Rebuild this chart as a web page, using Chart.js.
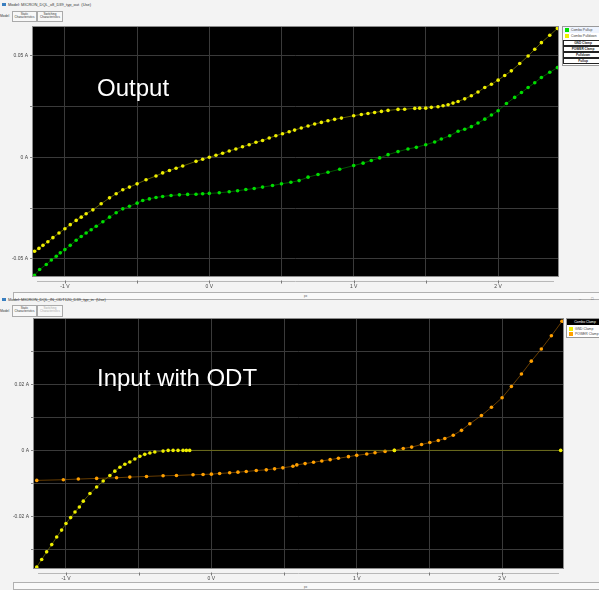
<!DOCTYPE html>
<html><head><meta charset="utf-8">
<script src="https://cdn.jsdelivr.net/npm/chart.js@4.4.1/dist/chart.umd.min.js"></script>
<style>
html,body{margin:0;padding:0;background:#f3f3f3;width:599px;height:590px;overflow:hidden;font-family:"Liberation Sans",Arial,sans-serif;}
.abs{position:absolute;}
.ttl{font-size:4px;color:#333;white-space:nowrap;line-height:5px;}
.tab{border:1px solid #aaa;background:#f8f8f8;font-size:3px;line-height:3.4px;text-align:center;color:#333;box-sizing:border-box;padding-top:1px;}
.tab.dis{color:#aaa;}
.big{color:#fff;font-size:24px;line-height:24px;white-space:nowrap;font-family:"Liberation Sans",Arial,sans-serif;}
.leg{background:#fff;border:1px solid #999;box-sizing:border-box;overflow:hidden;}
.lrow{position:absolute;left:0;width:40px;height:6px;font-size:3.4px;line-height:6px;color:#444;white-space:nowrap;}
.sw{position:absolute;left:2px;top:1px;width:4px;height:4px;}
.lbtn{position:absolute;left:0;width:40px;height:6px;border:1px solid #222;box-sizing:border-box;font-size:3.2px;line-height:4px;text-align:center;color:#222;background:#fff;font-weight:bold;}
.scroll{border:1px solid #b0b0b0;background:#f9f9f9;box-sizing:border-box;}
</style></head><body>

<!-- top window chrome -->
<div class="abs" style="left:2px;top:3px;width:4px;height:3px;background:#3a7fc0;"></div>
<div class="abs ttl" style="left:8px;top:2px;">Model: MICRON_DQL_x8_D39_typ_out &nbsp;(Use)</div>
<div class="abs ttl" style="left:0px;top:14px;font-size:3.4px;">Model</div>
<div class="abs tab" style="left:12px;top:11px;width:25px;height:11px;">Static<br>Characteristics</div>
<div class="abs tab" style="left:37px;top:11px;width:26px;height:11px;">Switching<br>Characteristics</div>

<canvas id="cTop" class="abs" style="left:0px;top:22px;"></canvas>
<div class="abs big" style="left:97px;top:76px;">Output</div>

<div class="abs leg" style="left:562px;top:26px;width:40px;height:40px;">
  <div class="lrow" style="top:0px;background:#eef4ff;"><div class="sw" style="background:#00e000;"></div><span style="margin-left:8px;">Combo Pullup</span></div>
  <div class="lrow" style="top:6px;"><div class="sw" style="background:#f0f000;"></div><span style="margin-left:8px;">Combo Pulldown</span></div>
  <div class="lbtn" style="top:13px;">GND Clamp</div>
  <div class="lbtn" style="top:19px;">POWER Clamp</div>
  <div class="lbtn" style="top:25px;">Pulldown</div>
  <div class="lbtn" style="top:31px;">Pullup</div>
</div>

<div class="abs scroll" style="left:13px;top:292px;width:590px;height:8px;"></div>
<div class="abs ttl" style="left:304px;top:294px;font-size:3px;color:#555;">px</div>

<!-- bottom window chrome -->
<div class="abs" style="left:2px;top:298px;width:4px;height:3px;background:#3a7fc0;"></div>
<div class="abs ttl" style="left:8px;top:297px;">Model: MICRON_DQL_IN_ODT120_D39_typ_in &nbsp;(Use)</div>
<div class="abs ttl" style="left:579px;top:296px;color:#666;">–</div>
<div class="abs ttl" style="left:591px;top:296px;color:#666;">□</div>
<div class="abs ttl" style="left:0px;top:309px;font-size:3.4px;">Model</div>
<div class="abs tab" style="left:12px;top:305px;width:25px;height:12px;">Static<br>Characteristics</div>
<div class="abs tab dis" style="left:37px;top:305px;width:26px;height:12px;">Switching<br>Characteristics</div>

<canvas id="cBot" class="abs" style="left:0px;top:314px;"></canvas>
<div class="abs big" style="left:97px;top:366px;">Input with ODT</div>

<div class="abs leg" style="left:566px;top:318px;width:36px;height:20px;">
  <div class="lrow" style="top:0px;background:#000;color:#fff;text-align:center;width:36px;">Combo Clamp</div>
  <div class="lrow" style="top:7px;"><div class="sw" style="background:#f0f000;"></div><span style="margin-left:8px;">GND Clamp</span></div>
  <div class="lrow" style="top:12px;"><div class="sw" style="background:#ffa000;"></div><span style="margin-left:8px;">POWER Clamp</span></div>
</div>

<div class="abs scroll" style="left:13px;top:582px;width:590px;height:8px;"></div>
<div class="abs ttl" style="left:304px;top:585px;font-size:3px;color:#555;">px</div>

<script>
// ---------- Output (top) data : voltage (V) / current (A) ----------
const outPulldownV = [-1.210,-1.180,-1.152,-1.118,-1.083,-1.041,-1.0,-0.963,-0.922,-0.887,-0.853,-0.806,-0.749,-0.691,-0.645,-0.599,-0.553,-0.5,-0.438,-0.369,-0.323,-0.276,-0.230,-0.184,-0.092,-0.046,0,0.046,0.092,0.138,0.184,0.230,0.276,0.323,0.369,0.415,0.461,0.507,0.553,0.591,0.637,0.684,0.730,0.776,0.822,0.868,0.915,1.0,1.053,1.099,1.145,1.192,1.238,1.307,1.353,1.423,1.457,1.499,1.538,1.584,1.619,1.654,1.688,1.723,1.769,1.815,1.861,1.908,1.954,2.0,2.046,2.092,2.150,2.208,2.254,2.300,2.358,2.411];
const outPulldownI = [-0.0463,-0.0449,-0.0434,-0.0416,-0.0396,-0.0373,-0.0352,-0.0332,-0.0311,-0.0295,-0.0278,-0.0259,-0.0229,-0.0200,-0.0180,-0.0160,-0.0147,-0.0131,-0.0111,-0.0092,-0.0077,-0.0065,-0.0054,-0.0043,-0.0020,-0.0010,0,0.0010,0.0020,0.0031,0.0041,0.0052,0.0062,0.0074,0.0083,0.0095,0.0106,0.0116,0.0126,0.0134,0.0144,0.0154,0.0164,0.0172,0.0180,0.0187,0.0193,0.0205,0.0211,0.0216,0.0221,0.0226,0.0231,0.0236,0.0237,0.0241,0.0242,0.0242,0.0246,0.0249,0.0254,0.0259,0.0267,0.0275,0.0288,0.0303,0.0322,0.0344,0.0360,0.0380,0.0403,0.0426,0.0462,0.0499,0.0532,0.0565,0.0601,0.0635];
const outPullupV = [-1.210,-1.175,-1.129,-1.094,-1.060,-1.032,-1.0,-0.963,-0.922,-0.887,-0.853,-0.818,-0.783,-0.737,-0.691,-0.645,-0.599,-0.553,-0.5,-0.461,-0.415,-0.369,-0.323,-0.265,-0.207,-0.150,-0.092,-0.046,0,0.069,0.138,0.196,0.253,0.311,0.369,0.438,0.5,0.565,0.622,0.684,0.753,0.822,0.903,1.0,1.065,1.122,1.180,1.238,1.307,1.376,1.434,1.499,1.561,1.607,1.665,1.723,1.769,1.815,1.861,1.908,1.954,2.0,2.058,2.115,2.162,2.208,2.254,2.300,2.358,2.411];
const outPullupI = [-0.0581,-0.0553,-0.0528,-0.0506,-0.0488,-0.0471,-0.0455,-0.0434,-0.0409,-0.0390,-0.0373,-0.0357,-0.0340,-0.0318,-0.0295,-0.0273,-0.0254,-0.0241,-0.0226,-0.0213,-0.0205,-0.0198,-0.0193,-0.0188,-0.0185,-0.0183,-0.0182,-0.0180,-0.0178,-0.0175,-0.0170,-0.0165,-0.0159,-0.0154,-0.0147,-0.0139,-0.0131,-0.0123,-0.0115,-0.0098,-0.0085,-0.0074,-0.0059,-0.0041,-0.0029,-0.0016,-0.0003,0.0013,0.0028,0.0041,0.0049,0.0062,0.0075,0.0090,0.0106,0.0128,0.0138,0.0151,0.0169,0.0188,0.0208,0.0229,0.0265,0.0295,0.0319,0.0344,0.0367,0.0393,0.0419,0.0442];

// ---------- Input with ODT (bottom) data ----------
const inGndClampV = [-1.201,-1.167,-1.133,-1.098,-1.064,-1.030,-1.0,-0.968,-0.938,-0.908,-0.881,-0.835,-0.789,-0.744,-0.698,-0.664,-0.629,-0.595,-0.561,-0.526,-0.492,-0.458,-0.423,-0.389,-0.332,-0.297,-0.263,-0.229,-0.195,-0.172,-0.149,1.259,2.403];
const inGndClampI = [-0.0354,-0.0331,-0.0308,-0.0286,-0.0263,-0.0242,-0.0222,-0.0204,-0.0187,-0.0172,-0.0154,-0.0131,-0.0111,-0.0093,-0.0076,-0.0063,-0.0051,-0.0042,-0.0035,-0.0026,-0.0018,-0.0012,-0.0008,-0.0005,-0.0002,0,0,0,0,0,0,0,0];
const inPowerClampV = [-1.201,-1.018,-0.915,-0.789,-0.652,-0.561,-0.446,-0.332,-0.240,-0.126,-0.057,0,0.057,0.126,0.183,0.240,0.309,0.378,0.435,0.492,0.561,0.588,0.645,0.703,0.760,0.817,0.874,0.943,1.0,1.069,1.126,1.195,1.259,1.320,1.378,1.446,1.503,1.561,1.606,1.664,1.721,1.778,1.858,1.927,2.0,2.064,2.133,2.201,2.270,2.339,2.412];
const inPowerClampI = [-0.0091,-0.0089,-0.0087,-0.0085,-0.0083,-0.0081,-0.0079,-0.0077,-0.0076,-0.0074,-0.0073,-0.0072,-0.0070,-0.0068,-0.0066,-0.0064,-0.0061,-0.0059,-0.0056,-0.0053,-0.0048,-0.0044,-0.0040,-0.0036,-0.0032,-0.0028,-0.0024,-0.0019,-0.0015,-0.0011,-0.0007,-0.0003,0,0.0006,0.0010,0.0018,0.0024,0.0030,0.0036,0.0046,0.0061,0.0081,0.0106,0.0131,0.0160,0.0194,0.0232,0.0271,0.0308,0.0348,0.0392];

// ---------- axis settings ----------
const topXRange = [-1.221, 2.415], topYRange = [-0.0585, 0.0642];
const botXRange = [-1.220, 2.419], botYRange = [-0.0357, 0.0399];
const xTickLabels = ['-1 V','0 V','1 V','2 V'];
const topYTickLabels = ['-0.05 A','0 A','0.05 A'];
const botYTickLabels = ['-0.02 A','0 A','0.02 A'];

function pts(xs, ys){ return xs.map((x,i)=>({x:x, y:ys[i]})); }
function fmt(v, unit){ const r = +(+v).toFixed(4); return (r === 0 ? '0' : String(r)) + ' ' + unit; }

const plotDeco = {
  id:'plotDeco',
  beforeDraw(chart){
    const {ctx, chartArea:a} = chart;
    ctx.save(); ctx.fillStyle='#000'; ctx.fillRect(a.left,a.top,a.right-a.left,a.bottom-a.top); ctx.restore();
  },
  afterDraw(chart){
    const {ctx, chartArea:a} = chart;
    ctx.save();
    ctx.strokeStyle='#8c8c8c'; ctx.lineWidth=1;
    ctx.strokeRect(a.left-0.5,a.top-0.5,a.right-a.left+1,a.bottom-a.top+1);
    const yl = a.bottom + 5.5;
    ctx.strokeStyle='#b8b8b8';
    ctx.beginPath(); ctx.moveTo(a.left+4,yl); ctx.lineTo(a.right-4,yl); ctx.stroke();
    ctx.strokeStyle='#777';
    const xs = chart.scales.x;
    xs.ticks.forEach(t=>{ const px = Math.round(xs.getPixelForValue(t.value))+0.5;
      ctx.beginPath(); ctx.moveTo(px,yl-1); ctx.lineTo(px,yl+2); ctx.stroke(); });
    ctx.restore();
  }
};

function makeChart(id, w, h, xr, yr, yStep, yLabels, yWidth, xHeight, datasets){
  const cv = document.getElementById(id); cv.width = w; cv.height = h;
  cv.style.width = w+'px'; cv.style.height = h+'px';
  return new Chart(cv, {
    type:'scatter',
    data:{datasets:datasets},
    options:{
      responsive:false, animation:false, devicePixelRatio:1,
      layout:{padding:{top:4,right:2,left:0,bottom:0}},
      plugins:{legend:{display:false}, tooltip:{enabled:false}},
      scales:{
        x:{type:'linear', min:xr[0], max:xr[1],
           border:{display:false},
           grid:{color:'#3a3a3a', lineWidth:1, drawTicks:false},
           ticks:{stepSize:0.5, includeBounds:false, padding:8, maxRotation:0, autoSkip:false,
                  font:{size:5, family:'Liberation Sans'}, color:'#444',
                  callback:(v)=>{ const s = fmt(v,'V'); return xTickLabels.includes(s) ? s : ''; }},
           afterFit:(s)=>{ s.height = xHeight; }},
        y:{type:'linear', min:yr[0], max:yr[1],
           border:{display:false},
           grid:{color:'#3a3a3a', lineWidth:1, tickLength:3, tickColor:'#888'},
           ticks:{stepSize:yStep, includeBounds:false, padding:2, autoSkip:false,
                  font:{size:5, family:'Liberation Sans'}, color:'#444',
                  callback:(v)=>{ const s = fmt(v,'A'); return yLabels.includes(s) ? s : ''; }},
           afterFit:(s)=>{ s.width = yWidth; }}
      }
    },
    plugins:[plotDeco]
  });
}

function ds(xs, ys, pointColor, lineColor){
  return {data:pts(xs,ys), showLine:true, borderColor:lineColor, borderWidth:1,
          pointRadius:1.8, pointBorderWidth:0, pointBackgroundColor:pointColor, pointStyle:'circle'};
}

makeChart('cTop', 562, 270, topXRange, topYRange, 0.025, topYTickLabels, 33, 16, [
  ds(outPullupV, outPullupI, '#00dd00', 'rgba(0,150,0,0.55)'),
  ds(outPulldownV, outPulldownI, '#eeee00', 'rgba(160,160,0,0.55)')
]);

makeChart('cBot', 567, 268, botXRange, botYRange, 0.01, botYTickLabels, 34, 14, [
  ds(inGndClampV, inGndClampI, '#eeee00', 'rgba(150,150,0,0.55)'),
  ds(inPowerClampV, inPowerClampI, '#ffa000', 'rgba(170,100,0,0.6)')
]);
</script>
</body></html>
